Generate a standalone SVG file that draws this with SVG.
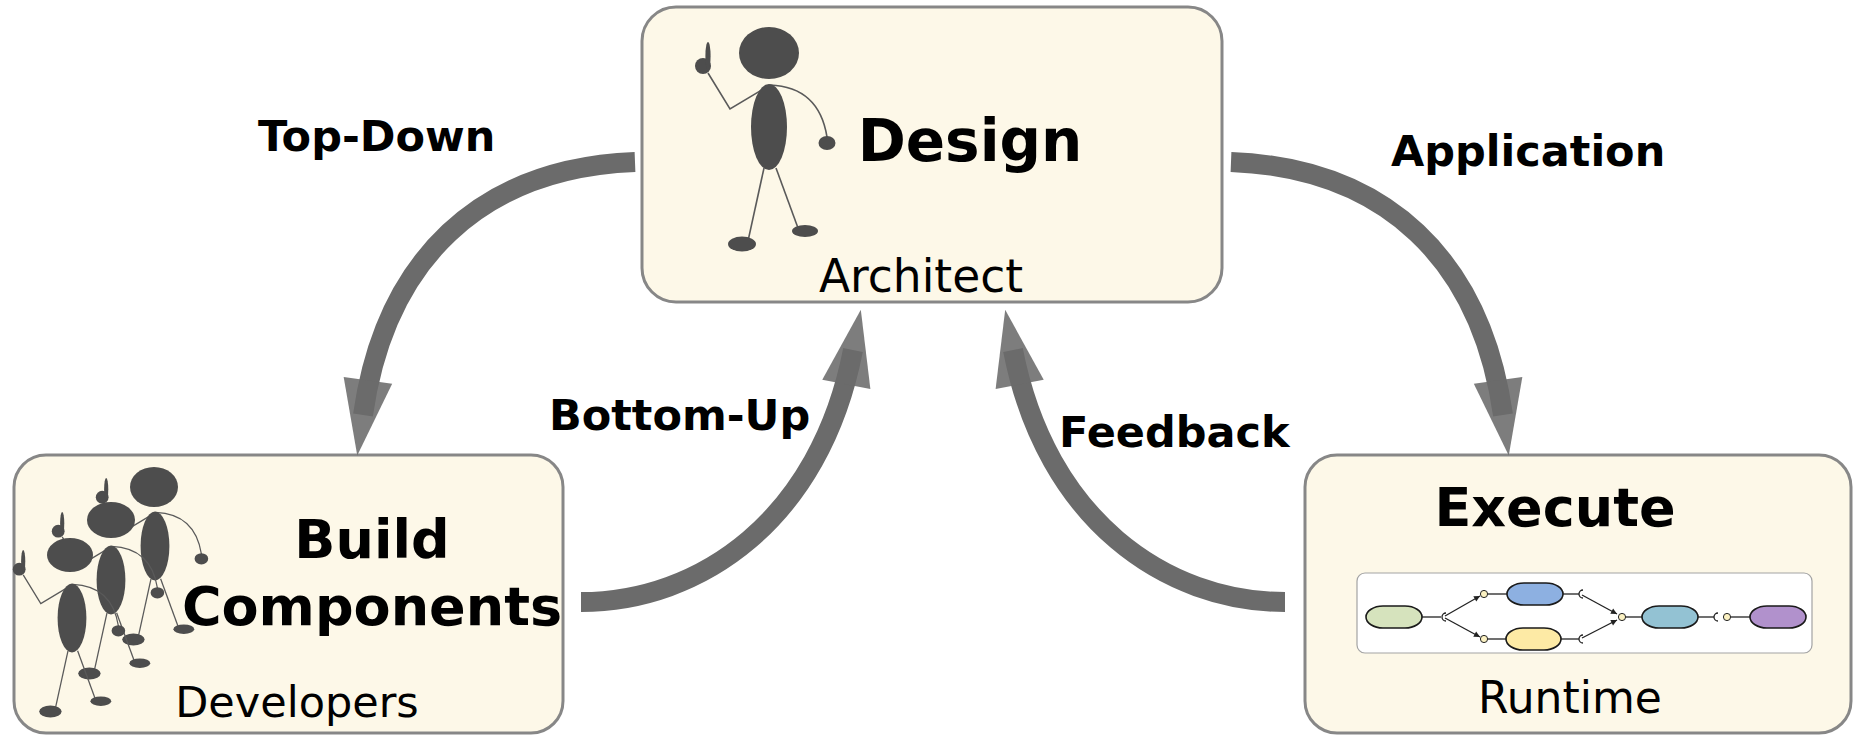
<svg xmlns="http://www.w3.org/2000/svg" width="1855" height="735" viewBox="0 0 1855 735">
  <style>
    .box{fill:#fdf8e8;stroke:#878787;stroke-width:3}
    .title{font-family:"DejaVu Sans",Verdana,sans-serif;font-weight:bold;fill:#000;text-anchor:middle}
    .sub{font-family:"DejaVu Sans",Verdana,sans-serif;fill:#000;text-anchor:middle}
    .label{font-family:"DejaVu Sans",Verdana,sans-serif;font-weight:bold;font-size:43px;fill:#000}
    .flow{fill:none;stroke:#6b6b6b;stroke-width:20;marker-end:url(#head)}
    .fig{fill:#4d4d4d}
    .limb{fill:none;stroke:#5a5a5a;stroke-width:1.6}
    .panel{fill:#fff;stroke:#a3a3a3;stroke-width:1.2}
    .pill{stroke:#1a1a1a;stroke-width:1.6}
    .wire{fill:none;stroke:#222;stroke-width:1.3}
    .arrowed{marker-end:url(#tip)}
    .ball{fill:#fbf1c2;stroke:#222;stroke-width:1}
  </style>
  <defs>
    <!-- translucent wide arrowhead for the cycle arrows -->
    <marker id="head" markerUnits="userSpaceOnUse" markerWidth="80" markerHeight="50" refX="35" refY="24.5" orient="auto" overflow="visible">
      <polygon points="0,0 76,24.5 0,49" fill="#6b6b6b" fill-opacity="0.88"/>
    </marker>
    <!-- small arrowhead for the runtime wiring -->
    <marker id="tip" markerUnits="userSpaceOnUse" markerWidth="8" markerHeight="8" refX="6" refY="3" orient="auto" overflow="visible">
      <polygon points="0,0 6,3 0,6" fill="#222"/>
    </marker>
    <!-- stick person, origin at body centre (head drawn per instance) -->
    <g id="person" class="fig">
      <polyline class="limb" points="-61,-54 -39,-18 1,-42"/>
      <path class="limb" d="M1,-42 Q50,-40 58,10"/>
      <line class="limb" x1="-5" y1="41" x2="-21" y2="114"/>
      <line class="limb" x1="7" y1="41" x2="29" y2="101"/>
      <ellipse cx="0" cy="0" rx="18" ry="43"/>
      <ellipse cx="-66" cy="-61" rx="8" ry="8"/>
      <ellipse cx="-61" cy="-71" rx="2.6" ry="14"/>
      <ellipse cx="58" cy="16" rx="8.5" ry="7"/>
      <ellipse cx="-27" cy="117" rx="14" ry="7.5"/>
      <ellipse cx="36" cy="104" rx="13" ry="6"/>
    </g>
  </defs>

  <rect width="1855" height="735" fill="#fff"/>

  <!-- Design -->
  <g id="design">
    <rect class="box" x="642" y="7" width="580" height="295" rx="34"/>
    <use href="#person" x="769" y="127"/>
    <ellipse class="fig" cx="769" cy="53" rx="30" ry="26"/>
    <text class="title" x="970" y="161" font-size="58">Design</text>
    <text class="sub" x="921" y="292" font-size="45.5">Architect</text>
  </g>

  <!-- Build Components -->
  <g id="build">
    <rect class="box" x="14" y="455" width="549" height="278" rx="32"/>
    <g transform="translate(155,546) scale(0.8)"><use href="#person"/></g>
    <ellipse class="fig" cx="154" cy="487" rx="24" ry="20"/>
    <g transform="translate(111,580) scale(0.8)"><use href="#person"/></g>
    <ellipse class="fig" cx="111" cy="520" rx="24" ry="18"/>
    <g transform="translate(72,618) scale(0.8)"><use href="#person"/></g>
    <ellipse class="fig" cx="70" cy="555" rx="23" ry="17"/>
    <text class="title" x="372" y="558" font-size="54">Build</text>
    <text class="title" x="372" y="625" font-size="54">Components</text>
    <text class="sub" x="297" y="717" font-size="43">Developers</text>
  </g>

  <!-- Execute -->
  <g id="execute">
    <rect class="box" x="1305" y="455" width="546" height="278" rx="32"/>
    <text class="title" x="1555" y="526" font-size="54">Execute</text>
    <rect class="panel" x="1357" y="573" width="455" height="80" rx="8"/>
    <g id="runtime-wiring">
      <line class="wire" x1="1422" y1="617" x2="1441" y2="617"/>
      <path class="wire" d="M1446,613 A4,4 0 0 0 1446,621"/>
      <line class="wire arrowed" x1="1445" y1="616" x2="1480" y2="596"/>
      <line class="wire arrowed" x1="1445" y1="618" x2="1480" y2="637"/>
      <line class="wire" x1="1488" y1="594" x2="1507" y2="594"/>
      <line class="wire" x1="1488" y1="639" x2="1506" y2="639"/>
      <line class="wire" x1="1563" y1="594" x2="1579" y2="594"/>
      <path class="wire" d="M1583,590 A4,4 0 0 0 1583,598"/>
      <line class="wire" x1="1561" y1="639" x2="1579" y2="639"/>
      <path class="wire" d="M1583,635 A4,4 0 0 0 1583,643"/>
      <line class="wire arrowed" x1="1582" y1="595" x2="1617" y2="614"/>
      <line class="wire arrowed" x1="1582" y1="638" x2="1617" y2="620"/>
      <line class="wire" x1="1626" y1="617" x2="1642" y2="617"/>
      <line class="wire" x1="1698" y1="617" x2="1714" y2="617"/>
      <path class="wire" d="M1718,613 A4,4 0 0 0 1718,621"/>
      <line class="wire" x1="1731" y1="617" x2="1750" y2="617"/>
      <circle class="ball" cx="1484" cy="594" r="3.6"/>
      <circle class="ball" cx="1484" cy="639" r="3.6"/>
      <circle class="ball" cx="1622" cy="617" r="3.6"/>
      <circle class="ball" cx="1727" cy="617" r="3.6"/>
      <rect class="pill" x="1366" y="606" width="56" height="22" rx="17" ry="11" fill="#d6e3bd"/>
      <rect class="pill" x="1507" y="583" width="56" height="22" rx="17" ry="11" fill="#8db0e1"/>
      <rect class="pill" x="1506" y="628" width="55" height="22" rx="17" ry="11" fill="#fdeaa5"/>
      <rect class="pill" x="1642" y="606" width="56" height="22" rx="17" ry="11" fill="#93c2d3"/>
      <rect class="pill" x="1750" y="606" width="56" height="22" rx="17" ry="11" fill="#b191cc"/>
    </g>
    <text class="sub" x="1570" y="713" font-size="44">Runtime</text>
  </g>

  <!-- cycle arrows -->
  <g id="connectors">
    <path class="flow" d="M635,162 C480,168 385,260 363,415"/>
    <path class="flow" d="M1231,162 C1386,168 1481,260 1503,415"/>
    <path class="flow" d="M581,602 C700,602 820,520 853,350"/>
    <path class="flow" d="M1285,602 C1166,602 1046,520 1013,350"/>
    <text class="label" x="258" y="151">Top-Down</text>
    <text class="label" x="1391" y="166">Application</text>
    <text class="label" x="549" y="430">Bottom-Up</text>
    <text class="label" x="1059" y="447">Feedback</text>
  </g>
</svg>
